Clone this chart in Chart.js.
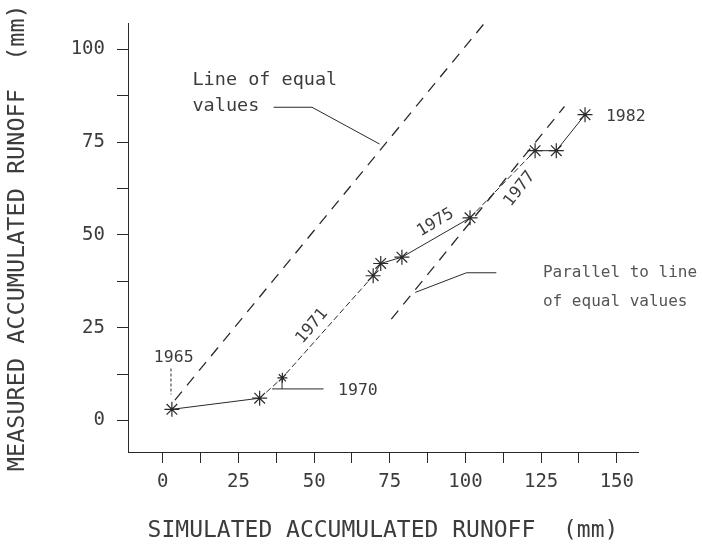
<!DOCTYPE html>
<html lang="en">
<head>
<meta charset="UTF-8">
<title>Measured vs simulated accumulated runoff</title>
<script src="https://cdn.jsdelivr.net/npm/chart.js@4"></script>
<style>
  body { margin: 0; background: #fff; }
  #wrap { width: 702px; height: 546px; }
</style>
</head>
<body>
<div id="wrap"><canvas id="runoffChart" width="702" height="546"></canvas></div>
<script>
// simulated (x) vs measured (y) accumulated runoff, mm
const simulated = [3, 32, 39.5, 69.5, 72, 79, 101.5, 123, 130, 139.5];
const measured  = [3, 6, 11.5, 39, 42.3, 44, 54.6, 72.7, 72.7, 82.4];
// segments (by start index) drawn with the fine dashed pen
const dashedSegments = [1, 2, 6];

// line of equal values and its parallel
const equalX = [4, 106];
const equalY = [5.5, 106.8];
const parallelX = [75.5, 132.7];
const parallelY = [27.3, 84.6];

const xTicks = [0, 12.5, 25, 37.5, 50, 62.5, 75, 87.5, 100, 112.5, 125, 137.5, 150];
const yTicks = [0, 12.5, 25, 37.5, 50, 62.5, 75, 87.5, 100];

const FONT = "'DejaVu Sans Mono', monospace";
const INK = '#2a2a2a';
const TEXT = '#3c3c3c';

const toPts = (xs, ys) => xs.map((v, i) => ({ x: v, y: ys[i] }));

// text labels and leader lines, placed in data units
const notes = {
    id: 'notes',
    afterDatasetsDraw(chart) {
        const { ctx, scales: { x, y } } = chart;
        const px = v => x.getPixelForValue(v);
        const py = v => y.getPixelForValue(v);
        ctx.save();
        ctx.strokeStyle = INK;
        ctx.lineWidth = 1;

        const path = (pts, dash) => {
            ctx.setLineDash(dash || []);
            ctx.beginPath();
            pts.forEach(([a, b], i) => i ? ctx.lineTo(px(a), py(b)) : ctx.moveTo(px(a), py(b)));
            ctx.stroke();
        };
        path([[36.6, 84.4], [49.3, 84.4], [71.6, 74.5]]);
        path([[110.2, 39.8], [100.3, 39.8], [83.4, 34.5]]);
        path([[2.7, 14], [2.7, 7]], [3, 2]);
        path([[39.4, 11.5], [39.4, 8.5]]);
        path([[36.1, 8.5], [53.1, 8.5]]);
        ctx.setLineDash([]);

        const text = (str, a, b, size, align, angle, color) => {
            ctx.save();
            ctx.font = size + 'px ' + FONT;
            ctx.fillStyle = color || TEXT;
            ctx.textAlign = align;
            ctx.textBaseline = 'middle';
            ctx.translate(px(a), py(b));
            if (angle) ctx.rotate(angle * Math.PI / 180);
            ctx.fillText(str, 0, 0);
            ctx.restore();
        };
        text('Line of equal', 9.8, 91.8, 18.5, 'left');
        text('values', 9.8, 84.6, 18.5, 'left');
        text('1965', 3.6, 16.9, 16.5, 'center');
        text('1970', 57.9, 8.1, 16.5, 'left');
        text('1971', 49.3, 25.4, 16.5, 'center', -50);
        text('1975', 90.1, 53.3, 16.5, 'center', -31);
        text('1977', 117.9, 62.4, 16.5, 'center', -52);
        text('1982', 146.4, 81.8, 16.5, 'left');
        text('Parallel to line', 125.6, 39.8, 16, 'left', 0, '#555');
        text('of equal values', 125.6, 31.9, 16, 'left', 0, '#555');
        ctx.restore();
    }
};

const axisCommon = {
    type: 'linear',
    border: { display: true, color: INK, width: 1 },
    grid: { display: true, drawOnChartArea: false, drawTicks: true, tickLength: 11, color: INK, lineWidth: 1 },
};

new Chart(document.getElementById('runoffChart'), {
    type: 'scatter',
    data: {
        datasets: [
            {
                data: toPts(simulated, measured),
                showLine: true,
                borderColor: INK,
                borderWidth: 1,
                pointStyle: 'star',
                pointRadius: ctx => ctx.dataIndex === 2 ? 5 : 7.5,
                pointBorderColor: INK,
                pointBorderWidth: 1.2,
                segment: {
                    borderDash: ctx => dashedSegments.includes(ctx.p0DataIndex) ? [6, 3] : undefined
                }
            },
            {
                data: toPts(equalX, equalY),
                showLine: true,
                borderColor: INK,
                borderWidth: 1.3,
                borderDash: [11, 8],
                pointRadius: 0
            },
            {
                data: toPts(parallelX, parallelY),
                showLine: true,
                borderColor: INK,
                borderWidth: 1.3,
                borderDash: [11, 8],
                pointRadius: 0
            }
        ]
    },
    options: {
        responsive: false,
        devicePixelRatio: 1,
        animation: false,
        layout: { padding: { top: 15, right: 64, bottom: 0, left: 0 } },
        plugins: { legend: { display: false }, tooltip: { enabled: false } },
        scales: {
            x: {
                ...axisCommon,
                min: -11.5,
                max: 157,
                afterBuildTicks: s => { s.ticks = xTicks.map(v => ({ value: v })); },
                afterFit: s => { s.height = 94; },
                ticks: {
                    autoSkip: false, maxRotation: 0, padding: 8, color: TEXT,
                    font: { family: FONT, size: 19 },
                    callback: v => v % 25 === 0 ? v : ''
                },
                title: {
                    display: true, text: 'SIMULATED ACCUMULATED RUNOFF  (mm)', color: TEXT,
                    font: { family: FONT, size: 23 }, padding: { top: 0, bottom: 1 }
                }
            },
            y: {
                ...axisCommon,
                min: -8.5,
                max: 107,
                afterBuildTicks: s => { s.ticks = yTicks.map(v => ({ value: v })); },
                afterFit: s => { s.width = 128; },
                ticks: {
                    autoSkip: false, padding: 12, color: TEXT,
                    font: { family: FONT, size: 19 },
                    callback: v => v % 25 === 0 ? v : ''
                },
                title: {
                    display: true, text: 'MEASURED ACCUMULATED RUNOFF  (mm)', color: TEXT,
                    font: { family: FONT, size: 23.5 }, padding: { top: 4, bottom: 0 }
                }
            }
        }
    },
    plugins: [notes]
});
</script>
</body>
</html>
